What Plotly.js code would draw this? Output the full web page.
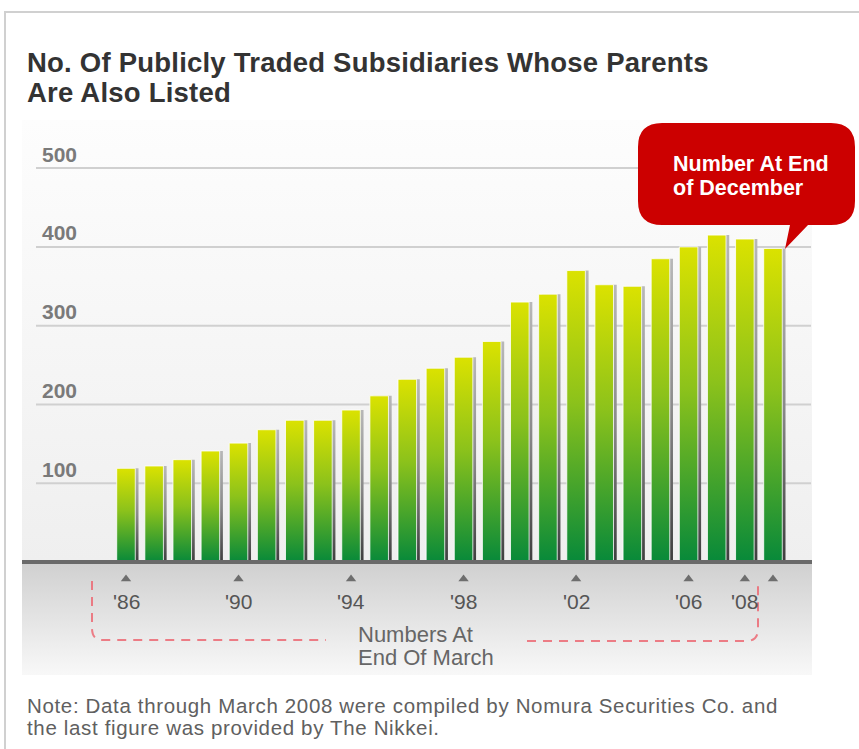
<!DOCTYPE html>
<html>
<head>
<meta charset="utf-8">
<script src="https://cdn.plot.ly/plotly-3.0.1.min.js"></script>
<style>
  html, body { margin: 0; padding: 0; background: #ffffff; }
  #chart { width: 859px; height: 749px; }
</style>
</head>
<body>
<div id="chart"></div>
<script>
// ---------- data ----------
var categories = ['1986','1987','1988','1989','1990','1991','1992','1993','1994','1995','1996','1997',
                  '1998','1999','2000','2001','2002','2003','2004','2005','2006','2007','2008','Dec 2008'];
var counts = [119, 122, 130, 141, 151, 168, 180, 180, 193, 211, 232, 246,
              260, 280, 330, 340, 370, 352, 350, 385, 400, 415, 410, 398];
var tickCategories = ['1986','1990','1994','1998','2002','2006','2008','Dec 2008'];
var tickLabels = ["'86", "'90", "'94", "'98", "'02", "'06", "'08", ""];
var yTickValues = [100, 200, 300, 400, 500];
var yTickLabels = ['100', '200', '300', '400', '500'];

var titleLine1 = 'No. Of Publicly Traded Subsidiaries Whose Parents';
var titleLine2 = 'Are Also Listed';
var calloutLines = ['Number At End', 'of December'];
var marchLines = ['Numbers At', 'End Of March'];
var noteLines = ['Note: Data through March 2008 were compiled by Nomura Securities Co. and',
                 'the last figure was provided by The Nikkei.'];

// ---------- geometry helpers (plot area: x 22..812, y 120..675 px) ----------
var W = 859, H = 749;
var L = 22, R = 812, T = 120, B = 675;
function px(x) { return (x - L) / (R - L); }
function py(y) { return (B - y) / (B - T); }
function P(x, y) { return px(x).toFixed(5) + ',' + py(y).toFixed(5); }

var FONT = 'Liberation Sans, Arial, Helvetica, sans-serif';
var barWidth = 0.66;

var bars = {
  type: 'bar', x: categories, y: counts, width: barWidth,
  marker: { color: '#7cbb19', line: { color: 'rgba(255,255,255,0.8)', width: 1 } },
  hoverinfo: 'skip', showlegend: false
};
var shadows = {
  type: 'bar', x: categories, y: counts, width: barWidth,
  offset: -barWidth / 2 + 0.115,
  marker: { color: '#777777', line: { width: 0 } },
  hoverinfo: 'skip', showlegend: false
};
var triangles = {
  type: 'scatter', mode: 'markers', x: tickCategories,
  y: tickCategories.map(function () { return -21.5; }),
  marker: { symbol: 'triangle-up', size: 9, color: '#6e6e6e' },
  hoverinfo: 'skip', showlegend: false
};

function ann(o) {
  o.showarrow = false; o.borderpad = 0; o.borderwidth = 0;
  return o;
}
var annotations = [];
// title second line
annotations.push(ann({ text: titleLine2, xref: 'paper', yref: 'paper', x: px(27), y: py(92.6),
  xanchor: 'left', yanchor: 'middle',
  font: { family: FONT, size: 27.5, color: '#333333', weight: 700 } }));
// y tick labels above gridlines
yTickValues.forEach(function (v, i) {
  annotations.push(ann({ text: yTickLabels[i], xref: 'paper', yref: 'y', x: px(41.5), y: v, yshift: 14,
    xanchor: 'left', yanchor: 'middle',
    font: { family: FONT, size: 21, color: '#7a7a7a', weight: 700 } }));
});
// x tick labels (category index positions)
tickCategories.forEach(function (c, i) {
  if (!tickLabels[i]) return;
  annotations.push(ann({ text: tickLabels[i], xref: 'x', yref: 'y', x: categories.indexOf(c), y: -49.5,
    xanchor: 'center', yanchor: 'middle',
    font: { family: FONT, size: 21, color: '#555555' } }));
});
// "Numbers At End Of March"
marchLines.forEach(function (t, i) {
  annotations.push(ann({ text: t, xref: 'paper', yref: 'paper', x: px(358), y: py(634 + i * 23.5),
    xanchor: 'left', yanchor: 'middle',
    font: { family: FONT, size: 22, color: '#666666' } }));
});
// callout text
calloutLines.forEach(function (t, i) {
  annotations.push(ann({ text: t, xref: 'paper', yref: 'paper', x: px(673), y: py(164.3 + i * 23.3),
    xanchor: 'left', yanchor: 'middle',
    font: { family: FONT, size: 21.5, color: '#ffffff', weight: 700 } }));
});
// note
noteLines.forEach(function (t, i) {
  annotations.push(ann({ text: t, xref: 'paper', yref: 'paper', x: px(27), y: py(705.5 + i * 21.5),
    xanchor: 'left', yanchor: 'middle',
    font: { family: FONT, size: 20.5, color: '#606060' } }));
});

var shapes = [];
// 0: upper background
shapes.push({ type: 'rect', xref: 'paper', yref: 'paper', x0: 0, x1: 1, y0: py(562), y1: 1,
  fillcolor: '#f6f6f6', line: { width: 0 }, layer: 'below' });
// 1: lower band
shapes.push({ type: 'rect', xref: 'paper', yref: 'paper', x0: 0, x1: 1, y0: 0, y1: py(563),
  fillcolor: '#e6e6e6', line: { width: 0 }, layer: 'below' });
// gridlines
yTickValues.forEach(function (v) {
  shapes.push({ type: 'line', xref: 'paper', yref: 'y', x0: px(36), x1: px(811), y0: v, y1: v,
    line: { color: '#d0d0d0', width: 2 }, layer: 'below' });
});
// outer frame
shapes.push({ type: 'rect', xref: 'paper', yref: 'paper', x0: px(5), x1: px(900), y0: py(800), y1: py(12),
  line: { color: '#d0d0d0', width: 2 }, fillcolor: 'rgba(0,0,0,0)', layer: 'below' });
// baseline axis
shapes.push({ type: 'line', xref: 'paper', yref: 'y', x0: 0, x1: 1, y0: 0, y1: 0,
  line: { color: '#6a6a6a', width: 4 }, layer: 'above' });
// dashed brackets
shapes.push({ type: 'path', xref: 'paper', yref: 'paper',
  path: 'M' + P(92, 581) + ' L' + P(92, 628) + ' Q' + P(92, 640) + ' ' + P(102, 640) + ' L' + P(326, 640),
  line: { color: 'rgba(236,105,115,0.85)', width: 2, dash: '9px,7px' }, layer: 'above' });
shapes.push({ type: 'path', xref: 'paper', yref: 'paper',
  path: 'M' + P(527, 641) + ' L' + P(746, 641) + ' Q' + P(758, 641) + ' ' + P(758, 629) + ' L' + P(758, 582),
  line: { color: 'rgba(236,105,115,0.85)', width: 2, dash: '9px,7px' }, layer: 'above' });
// callout bubble
(function () {
  var x0 = 638, x1 = 855, y0 = 123, y1 = 225, r = 24;
  var d = 'M' + P(x0 + r, y0) + ' L' + P(x1 - r, y0) + ' Q' + P(x1, y0) + ' ' + P(x1, y0 + r) +
    ' L' + P(x1, y1 - r) + ' Q' + P(x1, y1) + ' ' + P(x1 - r, y1) +
    ' L' + P(808, y1) + ' L' + P(785, 249) + ' L' + P(790, y1) +
    ' L' + P(x0 + r, y1) + ' Q' + P(x0, y1) + ' ' + P(x0, y1 - r) +
    ' L' + P(x0, y0 + r) + ' Q' + P(x0, y0) + ' ' + P(x0 + r, y0) + ' Z';
  shapes.push({ type: 'path', xref: 'paper', yref: 'paper', path: d,
    fillcolor: '#cc0000', line: { width: 0 }, layer: 'above' });
})();

var layout = {
  width: W, height: H,
  margin: { l: L, r: W - R, t: T, b: H - B, pad: 0 },
  paper_bgcolor: '#ffffff', plot_bgcolor: 'rgba(0,0,0,0)',
  showlegend: false,
  barmode: 'overlay',
  title: { text: titleLine1, xref: 'container', yref: 'container', x: 27 / W, xanchor: 'left',
    y: 1 - 62.1 / H, yanchor: 'middle',
    font: { family: FONT, size: 27.5, color: '#333333', weight: 700 } },
  xaxis: { type: 'category', categoryorder: 'array', categoryarray: categories,
    range: [-3.697, 24.387], showgrid: false, zeroline: false, showline: false,
    showticklabels: false, ticks: '', fixedrange: true },
  yaxis: { range: [-143.27, 561.04], showgrid: false, zeroline: false, showline: false,
    showticklabels: false, ticks: '', fixedrange: true },
  shapes: shapes,
  annotations: annotations
};

var gd = document.getElementById('chart');
Plotly.newPlot(gd, [shadows, bars, triangles], layout, { staticPlot: true, displayModeBar: false })
  .then(function () {
    var NS = 'http://www.w3.org/2000/svg';
    var svg = gd.querySelector('svg.main-svg');
    var defs = svg.querySelector('defs') || svg.insertBefore(document.createElementNS(NS, 'defs'), svg.firstChild);
    function grad(id, stops) {
      var g = document.createElementNS(NS, 'linearGradient');
      g.setAttribute('id', id);
      g.setAttribute('x1', '0'); g.setAttribute('y1', '0');
      g.setAttribute('x2', '0'); g.setAttribute('y2', '1');
      stops.forEach(function (s) {
        var st = document.createElementNS(NS, 'stop');
        st.setAttribute('offset', s[0]);
        st.setAttribute('stop-color', s[1]);
        g.appendChild(st);
      });
      defs.appendChild(g);
    }
    grad('gBar', [[0, '#dbe200'], [0.45, '#8cc21b'], [1, '#07893a']]);
    grad('gShadow', [[0, '#b8b8b8'], [0.5, '#8a8a8a'], [1, '#3e3e3e']]);
    grad('gUpper', [[0, '#fdfdfd'], [1, '#efefef']]);
    grad('gBand', [[0, '#d0d0d0'], [1, '#f8f8f8']]);

    var traces = gd.querySelectorAll('.barlayer .trace');
    if (traces[0]) traces[0].querySelectorAll('path').forEach(function (p) { p.style.fill = 'url(#gShadow)'; });
    if (traces[1]) traces[1].querySelectorAll('path').forEach(function (p) { p.style.fill = 'url(#gBar)'; });

    var s0 = gd.querySelector('.layer-below .shapelayer path[data-index="0"]');
    var s1 = gd.querySelector('.layer-below .shapelayer path[data-index="1"]');
    if (s0) s0.style.fill = 'url(#gUpper)';
    if (s1) s1.style.fill = 'url(#gBand)';

    // the source's text is set slightly wider than Arial; widen with letter spacing,
    // keeping the left edge where the library placed it
    function widen(t, sp) {
      var b0 = t.getBBox();
      t.style.letterSpacing = sp;
      var b1 = t.getBBox();
      var dx = b0.x - b1.x;
      if (Math.abs(dx) > 0.01) {
        var tr = t.getAttribute('transform') || '';
        t.setAttribute('transform', 'translate(' + dx.toFixed(2) + ',0) ' + tr);
      }
    }
    gd.querySelectorAll('text').forEach(function (t) {
      var s = t.textContent;
      if (s === noteLines[0] || s === noteLines[1]) widen(t, '0.65px');
      if (s === titleLine1 || s === titleLine2) widen(t, '0.22px');
    });
  });
</script>
</body>
</html>
